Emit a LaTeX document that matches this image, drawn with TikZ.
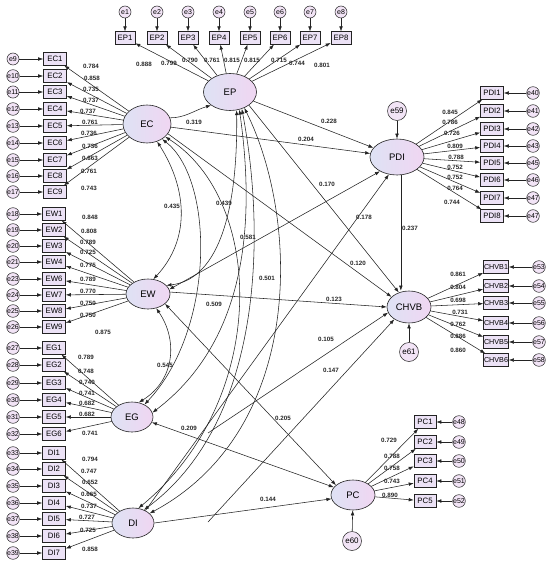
\documentclass[tikz,border=0pt]{standalone}
\usepackage{fontspec}
\setmainfont{Liberation Sans}
\usetikzlibrary{shapes.geometric,arrows.meta}
\definecolor{latL}{RGB}{222,226,244}
\definecolor{latR}{RGB}{240,214,242}
\definecolor{boxfill}{RGB}{236,226,246}
\definecolor{errfill}{RGB}{242,228,246}
\definecolor{ln}{RGB}{35,35,35}
\tikzset{
 lat/.style={ellipse, draw=ln, line width=0.6pt, left color=latL, right color=latR, minimum width=44pt, minimum height=30pt, inner sep=0pt, font=\fontsize{9.5}{9.5}\selectfont},
 obs/.style={rectangle, draw=ln, line width=0.6pt, fill=boxfill, minimum width=23pt, minimum height=12.5pt, inner sep=0pt, font=\fontsize{7.8}{7.8}\selectfont},
 err/.style={circle, draw=ln, line width=0.5pt, fill=errfill, minimum size=12pt, inner sep=0pt, font=\fontsize{7}{7}\selectfont},
 bigerr/.style={err, minimum size=19pt, font=\fontsize{8}{8}\selectfont},
 arr/.style={-{Latex[length=5pt,width=3.6pt]}, line width=0.55pt, draw=ln},
 darr/.style={{Latex[length=5pt,width=3.6pt]}-{Latex[length=5pt,width=3.6pt]}, line width=0.55pt, draw=ln},
 lbl/.style={font=\fontsize{6.2}{6.2}\selectfont\bfseries, inner sep=0pt, text=black!85},
}
\begin{document}
\begin{tikzpicture}[x=1pt,y=-1pt]
\useasboundingbox (0,0) rectangle (550,564);
\fill[white] (0,0) rectangle (550,564);
% latent variables
\node[lat, minimum width=53pt, minimum height=37pt] (EP) at (230,92) {EP};
\node[lat, minimum width=48pt, minimum height=38pt] (EC) at (147,124) {EC};
\node[lat] (EW) at (148,294) {EW};
\node[lat, minimum width=42pt] (EG) at (132,417) {EG};
\node[lat, minimum width=42pt] (DI) at (133,523) {DI};
\node[lat, minimum width=54pt, minimum height=36pt] (PDI) at (397,157) {PDI};
\node[lat, minimum height=32pt] (CHVB) at (409,307) {CHVB};
\node[lat] (PC) at (353,495) {PC};
\node[bigerr] (e59) at (397,111) {e59};
\node[bigerr] (e61) at (409,352) {e61};
\node[bigerr] (e60) at (352,541) {e60};
\draw[arr] (e59) -- (PDI);
\draw[arr] (e61) -- (CHVB);
\draw[arr] (e60) -- (PC);
% EP indicators
\foreach \i/\x in {1/125,2/157,3/188,4/219,5/250,6/280,7/310,8/341}{
  \node[err] (e\i) at (\x,12) {e\i};
  \node[obs, minimum width=20pt] (EP\i) at (\x,38) {EP\i};
  \draw[arr] (e\i) -- (EP\i);
  \draw[arr] (EP) -- (EP\i);
}
% EC indicators
\foreach \i/\y [count=\k from 9] in {1/59,2/76,3/92,4/109,5/126,6/143,7/160,8/176,9/192}{
  \node[obs] (EC\i) at (55,\y) {EC\i};
  \node[err] (e\k) at (13,\y) {e\k};
  \draw[arr] (e\k) -- (EC\i);
  \draw[arr] (EC) -- (EC\i);
}
% EW indicators
\foreach \i/\y/\k in {1/214/18,2/230/19,3/246/20,4/262/21,6/279/23,7/295/24,8/311/25,9/327/26}{
  \node[obs] (EW\i) at (54,\y) {EW\i};
  \node[err] (e\k) at (13,\y) {e\k};
  \draw[arr] (e\k) -- (EW\i);
  \draw[arr] (EW) -- (EW\i);
}
% EG indicators
\foreach \i/\y [count=\k from 27] in {1/348,2/365,3/383,4/400,5/417,6/434}{
  \node[obs] (EG\i) at (54,\y) {EG\i};
  \node[err] (e\k) at (13,\y) {e\k};
  \draw[arr] (e\k) -- (EG\i);
  \draw[arr] (EG) -- (EG\i);
}
% DI indicators
\foreach \i/\y [count=\k from 33] in {1/453,2/469,3/486,4/503,5/519,6/536,7/553}{
  \node[obs] (DI\i) at (54,\y) {DI\i};
  \node[err] (e\k) at (13,\y) {e\k};
  \draw[arr] (e\k) -- (DI\i);
  \draw[arr] (DI) -- (DI\i);
}
% PDI indicators
\foreach \i/\y/\k in {1/93/e40,2/111/e41,3/129/e42,4/146/e43,5/163/e45,6/180/e46,7/198/e47,8/216/e47}{
  \node[obs, minimum width=23pt] (PDI\i) at (492,\y) {PDI\i};
  \node[err] (r\i) at (533,\y) {\k};
  \draw[arr] (r\i) -- (PDI\i);
  \draw[arr] (PDI) -- (PDI\i);
}
% CHVB indicators
\foreach \i/\y [count=\k from 53] in {1/267,2/286,3/303,4/323,5/342,6/360}{
  \node[obs, minimum width=25pt, font=\fontsize{7.2}{7.2}\selectfont] (CHVB\i) at (496,\y) {CHVB\i};
  \node[err] (e\k) at (539,\y) {e\k};
  \draw[arr] (e\k) -- (CHVB\i);
  \draw[arr] (CHVB) -- (CHVB\i);
}
% PC indicators
\foreach \i/\y [count=\k from 48] in {1/422,2/442,3/461,4/481,5/501}{
  \node[obs, minimum width=22pt, minimum height=13pt] (PC\i) at (425,\y) {PC\i};
  \node[err] (e\k) at (459,\y) {e\k};
  \draw[arr] (e\k) -- (PC\i);
  \draw[arr] (PC) -- (PC\i);
}
% structural paths
\draw[arr] (EC.15) .. controls (185,118) and (195,110) .. (EP.-145);
\draw[arr] (EC) -- (PDI);
\draw[arr] (EP) -- (PDI);
\draw[darr] (EW.12) -- (PDI.-140);
\draw[arr] (DI.45) -- (PDI.-115);
\draw[arr] (PDI.-78) -- (PDI.-78 |- CHVB.north);
\draw[arr] (EC.-25) -- (CHVB.150);
\draw[arr] (EP.-35) -- (CHVB.125);
\draw[arr] (EW.5) -- (CHVB.180);
\coordinate (free105) at (208,433);
\coordinate (free147) at (208,522);
\draw[arr] (free105) -- (CHVB.-165);
\draw[arr] (free147) -- (CHVB.-140);
\draw[darr] (EG.-15) -- (PC.158);
\draw[darr] (EW.-30) -- (PC.150);
\draw[arr] (DI.0) -- (PC.-170);
% correlations
\draw[darr] (EC.-60) .. controls (188,190) and (190,240) .. (EW.70);
\draw[darr] (EP.-70) .. controls (238,220) and (215,280) .. (EW.25);
\draw[darr] (EW.-60) .. controls (178,340) and (175,380) .. (EG.65);
\draw[darr] (EC.-45) .. controls (215,180) and (215,330) .. (EG.45);
\draw[darr] (EP.-62) .. controls (255,220) and (248,340) .. (EG.12);
\draw[darr] (EC.-35) .. controls (265,200) and (270,400) .. (DI.70);
\draw[darr] (EP.-55) .. controls (265,230) and (265,420) .. (DI.50);
\draw[darr] (EP.-48) .. controls (300,220) and (305,430) .. (DI.30);
% structural labels
\foreach \n/\x/\y/\t in {s1/194/122/0.319,s2/329/121/0.228,s3/306/139/0.204,s4/327/184/0.170,s5/364/217/0.178,s6/410/228/0.237,s7/172/206/0.435,s8/224/203/0.439,s9/248/237/0.581,s10/267/278/0.501,s11/358/263/0.120,s12/214/304/0.509,s13/334/299/0.123,s14/326/339/0.105,s15/331/370/0.147,s16/165/365/0.545,s17/189/428/0.209,s18/283/418/0.205,s19/268/499/0.144}{
  \node[lbl] (\n) at (\x,\y) {\t};
}
% loading labels
\foreach \n/\x/\y/\t in {
 a1/144/64/0.888,a2/169/63/0.799,a3/190/60/0.790,a4/212/60/0.761,a5/232/60/0.815,a6/252/60/0.815,a7/279/60/0.715,a8/297/63/0.744,a9/322/65/0.801,
 b1/91/66/0.784,b2/92/78/0.858,b3/91/89/0.735,b4/91/100/0.737,b5/88/111/0.737,b6/90/122/0.761,b7/89/133/0.736,b8/90/146/0.736,b9/90/158/0.863,b10/89/171/0.761,b11/89/188/0.743,
 c1/90/217/0.848,c2/89/231/0.808,c3/88/242/0.789,c4/88/252/0.725,c5/88/265/0.775,c6/88/279/0.789,c7/88/291/0.770,c8/88/303/0.750,c9/88/315/0.750,c10/103/332/0.875,
 d1/86/357/0.789,d2/86/371/0.748,d3/87/382/0.740,d4/87/393/0.741,d5/87/403/0.682,d6/87/414/0.682,d7/90/433/0.741,
 f1/90/459/0.794,f2/89/471/0.747,f3/90/482/0.652,f4/89/494/0.665,f5/89/506/0.737,f6/87/517/0.727,f7/88/530/0.725,f8/90/549/0.858,
 g1/450/112/0.845,g2/450/122/0.786,g3/452/133/0.726,g4/455/146/0.809,g5/456/157/0.788,g6/455/167/0.752,g7/455/177/0.752,g8/455/188/0.764,g9/452/202/0.744,
 h1/458/274/0.861,h2/458/287/0.804,h3/458/300/0.698,h4/460/312/0.731,h5/458/324/0.762,h6/458/336/0.886,h7/458/350/0.860,
 k1/389/440/0.729,k2/392/456/0.788,k3/392/468/0.758,k4/392/481/0.743,k5/390/495/0.890}{
  \node[lbl] (\n) at (\x,\y) {\t};
}
\end{tikzpicture}
\end{document}
